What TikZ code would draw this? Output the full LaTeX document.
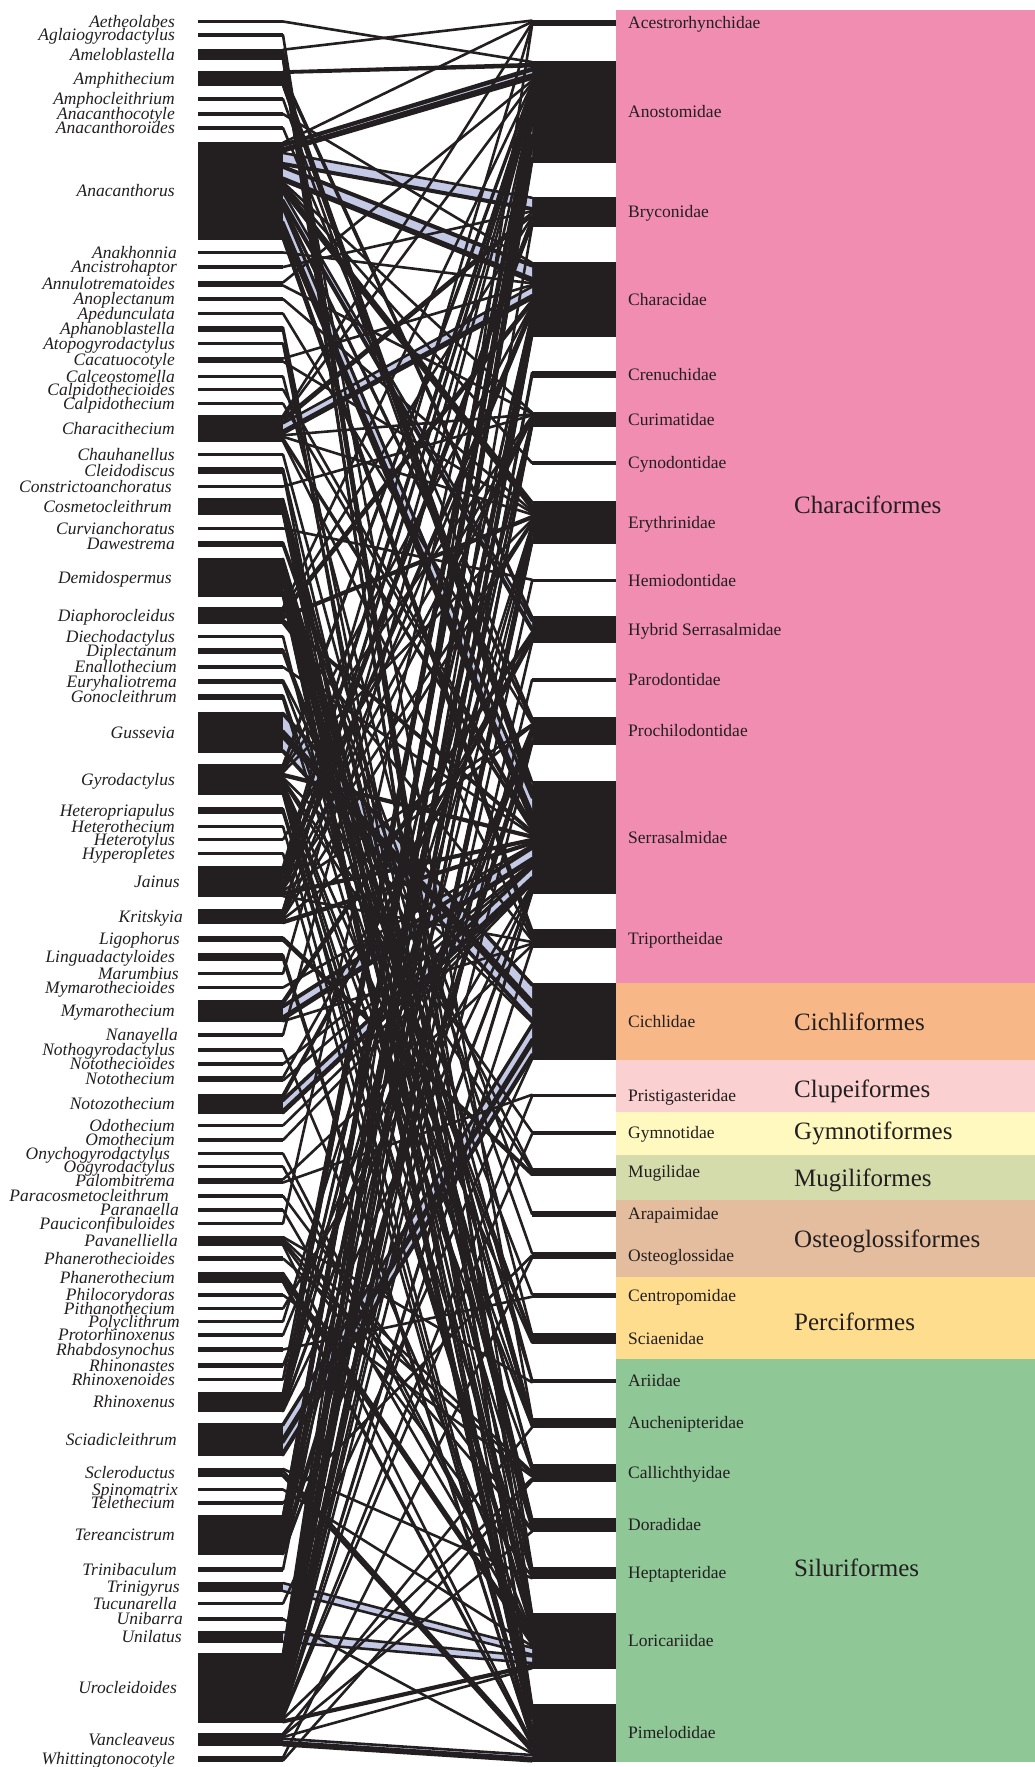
\documentclass[tikz,border=0pt]{standalone}
\usepackage{fontspec}
\setmainfont{Liberation Serif}
\definecolor{ink}{RGB}{35,31,32}
\definecolor{lnkblue}{RGB}{196,202,230}
\definecolor{cchar}{RGB}{242,141,178}
\definecolor{ccich}{RGB}{248,183,135}
\definecolor{cclup}{RGB}{251,208,208}
\definecolor{cgymn}{RGB}{255,249,192}
\definecolor{cmugi}{RGB}{213,220,171}
\definecolor{cost}{RGB}{228,189,158}
\definecolor{cperc}{RGB}{254,221,143}
\definecolor{csil}{RGB}{143,199,151}
\tikzset{
 lbar/.style={fill=ink, inner sep=0pt, outer sep=0pt, minimum width=85pt, draw=none},
 rbar/.style={fill=ink, inner sep=0pt, outer sep=0pt, minimum width=84pt, draw=none},
 glab/.style={anchor=east, inner sep=0pt, text height=11pt, text depth=0pt, font=\fontsize{17.5}{18}\selectfont\itshape, text=ink},
 flab/.style={anchor=west, inner sep=0pt, text height=11pt, text depth=0pt, font=\fontsize{17.5}{18}\selectfont, text=ink},
 olab/.style={anchor=west, inner sep=0pt, text height=16pt, text depth=0pt, font=\fontsize{25}{26}\selectfont, text=ink},
 ribfill/.style={fill=lnkblue, draw=none},
 lnk/.style={draw=ink, line width=2.6pt, line cap=round},
}
\newcommand\setv[2]{\expandafter\xdef\csname #1\endcsname{#2}}
\newcommand\getv[1]{\csname #1\endcsname}
\newcommand\gbar[5][0]{%
  \pgfmathsetmacro\myc{-(#3+#4)/2}%
  \pgfmathsetmacro\myh{#4-#3}%
  \node[lbar,minimum height=\myh pt] (L#2) at (240.5,\myc) {};
  \node[glab] (tL#2) at (175+#1,\myc) {#5};
  \setv{Lh#2}{\myh}\setv{LT#2}{0}\setv{LC#2}{0}%
}
\newcommand\fbar[4]{%
  \pgfmathsetmacro\myc{-(#2+#3)/2}%
  \pgfmathsetmacro\myh{#3-#2}%
  \node[rbar,minimum height=\myh pt] (R#1) at (574,\myc) {};
  \node[flab] (tR#1) at (628,\myc) {#4};
  \setv{Rh#1}{\myh}\setv{RT#1}{0}\setv{RC#1}{0}%
}
\newcommand\lkcount[3]{%
  \pgfmathsetmacro\mytmp{\getv{LT#1}+#3}\setv{LT#1}{\mytmp}%
  \pgfmathsetmacro\mytmp{\getv{RT#2}+#3}\setv{RT#2}{\mytmp}%
}
\newcommand\lkcomp[3]{%
  \pgfmathsetmacro\mysl{\getv{Lh#1}/\getv{LT#1}}%
  \pgfmathsetmacro\myla{(\getv{LC#1}+0.5)*\mysl}%
  \pgfmathsetmacro\mylb{(\getv{LC#1}+#3-0.5)*\mysl}%
  \pgfmathsetmacro\mysr{\getv{Rh#2}/\getv{RT#2}}%
  \pgfmathsetmacro\myra{(\getv{RC#2}+0.5)*\mysr}%
  \pgfmathsetmacro\myrb{(\getv{RC#2}+#3-0.5)*\mysr}%
  \pgfmathsetmacro\mytmp{\getv{LC#1}+#3}\setv{LC#1}{\mytmp}%
  \pgfmathsetmacro\mytmp{\getv{RC#2}+#3}\setv{RC#2}{\mytmp}%
}
\newcommand\lkfill[3]{%
  \lkcomp{#1}{#2}{#3}%
  \ifnum#3>1
  \fill[ribfill] ([yshift=-\myla pt]L#1.north east) -- ([yshift=-\myra pt]R#2.north west) -- ([yshift=-\myrb pt]R#2.north west) -- ([yshift=-\mylb pt]L#1.north east) -- cycle;
  \fi
}
\newcommand\lkline[3]{%
  \lkcomp{#1}{#2}{#3}%
  \draw[lnk] ([yshift=-\myla pt]L#1.north east) -- ([yshift=-\myra pt]R#2.north west);
  \ifnum#3>1
  \draw[lnk] ([yshift=-\mylb pt]L#1.north east) -- ([yshift=-\myrb pt]R#2.north west);
  \fi
}
\newcommand\resetcur{%
  \foreach \i in {1,...,83}{\setv{LC\i}{0}}%
  \foreach \i in {1,...,29}{\setv{RC\i}{0}}%
}
\def\linklist{%
\lk{1}{2}{1}
\lk{2}{28}{1}
\lk{3}{1}{1}\lk{3}{24}{1}\lk{3}{27}{1}\lk{3}{28}{1}\lk{3}{29}{3}\lk{3}{29}{1}
\lk{4}{2}{1}\lk{4}{2}{1}\lk{4}{10}{3}\lk{4}{13}{5}\lk{4}{13}{1}\lk{4}{13}{1}\lk{4}{13}{1}
\lk{5}{13}{1}
\lk{6}{4}{1}
\lk{7}{12}{1}
\lk{8}{1}{1}\lk{8}{2}{1}\lk{8}{2}{3}\lk{8}{2}{1}\lk{8}{2}{1}\lk{8}{3}{8}\lk{8}{3}{1}\lk{8}{4}{1}\lk{8}{4}{8}\lk{8}{4}{1}\lk{8}{4}{1}\lk{8}{6}{1}\lk{8}{7}{1}\lk{8}{8}{3}\lk{8}{8}{1}\lk{8}{8}{1}\lk{8}{10}{6}\lk{8}{10}{1}\lk{8}{10}{1}\lk{8}{12}{1}\lk{8}{12}{1}\lk{8}{13}{1}\lk{8}{13}{10}\lk{8}{13}{1}\lk{8}{13}{1}\lk{8}{13}{1}\lk{8}{13}{1}\lk{8}{13}{3}\lk{8}{14}{3}\lk{8}{14}{1}\lk{8}{14}{1}
\lk{9}{4}{1}
\lk{10}{3}{1}
\lk{11}{2}{1}\lk{11}{6}{1}
\lk{12}{8}{1}
\lk{13}{12}{1}
\lk{14}{27}{1}\lk{14}{29}{1}
\lk{15}{28}{1}
\lk{16}{4}{1}\lk{16}{8}{1}
\lk{17}{22}{1}
\lk{18}{13}{1}
\lk{19}{13}{1}
\lk{20}{1}{1}\lk{20}{2}{1}\lk{20}{3}{3}\lk{20}{4}{6}\lk{20}{4}{1}\lk{20}{4}{1}\lk{20}{6}{1}\lk{20}{8}{1}\lk{20}{13}{1}\lk{20}{13}{1}\lk{20}{14}{1}
\lk{21}{23}{1}
\lk{22}{26}{1}\lk{22}{29}{1}
\lk{23}{6}{1}
\lk{24}{24}{1}\lk{24}{24}{1}\lk{24}{26}{3}\lk{24}{26}{1}\lk{24}{26}{1}\lk{24}{28}{1}\lk{24}{29}{1}\lk{24}{29}{1}
\lk{25}{9}{1}
\lk{26}{19}{1}\lk{26}{20}{1}
\lk{27}{23}{1}\lk{27}{24}{1}\lk{27}{24}{1}\lk{27}{24}{1}\lk{27}{25}{1}\lk{27}{25}{1}\lk{27}{26}{3}\lk{27}{26}{1}\lk{27}{27}{1}\lk{27}{27}{1}\lk{27}{27}{1}\lk{27}{28}{1}\lk{27}{28}{1}\lk{27}{29}{1}\lk{27}{29}{7}\lk{27}{29}{1}\lk{27}{29}{1}\lk{27}{29}{1}
\lk{28}{2}{1}\lk{28}{3}{1}\lk{28}{4}{1}\lk{28}{4}{1}\lk{28}{4}{1}\lk{28}{8}{1}\lk{28}{8}{1}\lk{28}{13}{1}\lk{28}{13}{1}\lk{28}{14}{1}
\lk{29}{28}{1}
\lk{30}{21}{1}\lk{30}{22}{1}
\lk{31}{13}{1}
\lk{32}{18}{1}\lk{32}{22}{1}
\lk{33}{24}{1}\lk{33}{26}{1}
\lk{34}{15}{1}\lk{34}{15}{10}\lk{34}{15}{1}\lk{34}{15}{1}\lk{34}{15}{1}\lk{34}{15}{8}\lk{34}{15}{1}
\lk{35}{2}{1}\lk{35}{2}{1}\lk{35}{4}{1}\lk{35}{6}{1}\lk{35}{8}{1}\lk{35}{13}{1}\lk{35}{13}{1}\lk{35}{15}{1}\lk{35}{17}{1}\lk{35}{18}{1}\lk{35}{22}{1}\lk{35}{24}{1}\lk{35}{25}{1}\lk{35}{27}{1}\lk{35}{28}{1}\lk{35}{28}{1}\lk{35}{29}{1}
\lk{36}{28}{2}
\lk{37}{29}{1}
\lk{38}{6}{1}
\lk{39}{29}{1}
\lk{40}{1}{1}\lk{40}{2}{1}\lk{40}{2}{1}\lk{40}{2}{1}\lk{40}{3}{4}\lk{40}{3}{1}\lk{40}{4}{1}\lk{40}{4}{1}\lk{40}{4}{1}\lk{40}{6}{1}\lk{40}{8}{1}\lk{40}{12}{1}\lk{40}{13}{1}\lk{40}{13}{1}\lk{40}{14}{1}
\lk{41}{2}{1}\lk{41}{2}{1}\lk{41}{4}{1}\lk{41}{6}{1}\lk{41}{8}{1}\lk{41}{12}{1}\lk{41}{13}{1}\lk{41}{13}{1}
\lk{42}{18}{2}
\lk{43}{29}{2}
\lk{44}{2}{1}
\lk{45}{13}{1}
\lk{46}{10}{3}\lk{46}{13}{1}\lk{46}{13}{7}\lk{46}{13}{1}\lk{46}{13}{1}\lk{46}{14}{1}
\lk{47}{2}{1}
\lk{48}{28}{1}
\lk{49}{13}{1}
\lk{50}{10}{1}\lk{50}{13}{1}
\lk{51}{10}{3}\lk{51}{13}{1}\lk{51}{13}{7}\lk{51}{13}{1}\lk{51}{13}{1}
\lk{52}{13}{1}
\lk{53}{13}{1}
\lk{54}{28}{1}
\lk{55}{28}{1}
\lk{56}{14}{1}\lk{56}{16}{1}
\lk{57}{26}{1}
\lk{58}{28}{1}
\lk{59}{2}{1}
\lk{60}{23}{1}\lk{60}{25}{1}\lk{60}{26}{1}\lk{60}{27}{1}\lk{60}{29}{1}
\lk{61}{25}{1}
\lk{62}{28}{3}\lk{62}{28}{1}\lk{62}{29}{1}\lk{62}{29}{1}
\lk{63}{25}{1}
\lk{64}{13}{1}
\lk{65}{8}{1}
\lk{66}{12}{1}
\lk{67}{21}{1}
\lk{68}{12}{1}
\lk{69}{2}{1}
\lk{70}{2}{1}\lk{70}{2}{3}\lk{70}{2}{1}\lk{70}{4}{1}\lk{70}{4}{1}\lk{70}{6}{1}\lk{70}{6}{1}\lk{70}{8}{1}\lk{70}{12}{1}\lk{70}{12}{1}\lk{70}{13}{1}
\lk{71}{15}{1}\lk{71}{15}{9}\lk{71}{15}{1}\lk{71}{15}{1}\lk{71}{15}{7}\lk{71}{15}{1}\lk{71}{15}{1}
\lk{72}{27}{1}\lk{72}{29}{3}\lk{72}{29}{1}
\lk{73}{28}{1}
\lk{74}{20}{1}
\lk{75}{2}{1}\lk{75}{2}{7}\lk{75}{2}{1}\lk{75}{2}{1}\lk{75}{2}{1}\lk{75}{4}{1}\lk{75}{4}{1}\lk{75}{4}{1}\lk{75}{4}{1}\lk{75}{6}{1}\lk{75}{6}{1}\lk{75}{8}{1}\lk{75}{12}{5}\lk{75}{12}{1}\lk{75}{13}{1}\lk{75}{13}{1}
\lk{76}{4}{1}
\lk{77}{28}{5}
\lk{78}{15}{1}
\lk{79}{29}{1}
\lk{80}{28}{5}
\lk{81}{1}{1}\lk{81}{2}{1}\lk{81}{2}{7}\lk{81}{2}{1}\lk{81}{2}{1}\lk{81}{3}{1}\lk{81}{4}{1}\lk{81}{4}{3}\lk{81}{4}{1}\lk{81}{4}{1}\lk{81}{4}{1}\lk{81}{5}{2}\lk{81}{6}{1}\lk{81}{6}{3}\lk{81}{8}{1}\lk{81}{8}{5}\lk{81}{8}{1}\lk{81}{8}{1}\lk{81}{9}{1}\lk{81}{10}{1}\lk{81}{11}{1}\lk{81}{12}{1}\lk{81}{13}{1}\lk{81}{13}{1}\lk{81}{14}{1}\lk{81}{16}{1}\lk{81}{17}{1}\lk{81}{25}{1}\lk{81}{28}{1}\lk{81}{28}{1}
\lk{82}{24}{1}\lk{82}{26}{1}\lk{82}{28}{1}\lk{82}{29}{3}\lk{82}{29}{1}\lk{82}{29}{1}
\lk{83}{20}{1}\lk{83}{25}{1}
}
\begin{document}
\begin{tikzpicture}[x=1pt,y=1pt]
\useasboundingbox (0,0) rectangle (1035,-1767);
\fill[white] (0,0) rectangle (1035,-1767);
% order panels
\fill[cchar] (616,-10) rectangle (1035,-983);
\fill[ccich] (616,-983) rectangle (1035,-1060);
\fill[cclup] (616,-1060) rectangle (1035,-1112);
\fill[cgymn] (616,-1112) rectangle (1035,-1155);
\fill[cmugi] (616,-1155) rectangle (1035,-1200);
\fill[cost] (616,-1200) rectangle (1035,-1277);
\fill[cperc] (616,-1277) rectangle (1035,-1359);
\fill[csil] (616,-1359) rectangle (1035,-1762);
\node[olab] (oChar) at (794,-505) {Characiformes};
\node[olab] (oCich) at (794,-1022) {Cichliformes};
\node[olab] (oClup) at (794,-1089) {Clupeiformes};
\node[olab] (oGymn) at (794,-1131) {Gymnotiformes};
\node[olab] (oMugi) at (794,-1178) {Mugiliformes};
\node[olab] (oOst) at (794,-1239) {Osteoglossiformes};
\node[olab] (oPerc) at (794,-1322) {Perciformes};
\node[olab] (oSil) at (794,-1568) {Siluriformes};
% parasite genera
\gbar{1}{20}{23}{Aetheolabes}
\gbar{2}{33}{37}{Aglaiogyrodactylus}
\gbar{3}{49}{60}{Ameloblastella}
\gbar{4}{71}{86}{Amphithecium}
\gbar{5}{97}{101}{Amphocleithrium}
\gbar{6}{112}{116}{Anacanthocotyle}
\gbar{7}{126}{130}{Anacanthoroides}
\gbar{8}{142}{240}{Anacanthorus}
\gbar[2]{9}{251}{254}{Anakhonnia}
\gbar[2]{10}{265}{269}{Ancistrohaptor}
\gbar{11}{281}{287}{Annulotrematoides}
\gbar{12}{297}{301}{Anoplectanum}
\gbar{13}{312}{315}{Apedunculata}
\gbar{14}{326}{332}{Aphanoblastella}
\gbar{15}{342}{345}{Atopogyrodactylus}
\gbar{16}{357}{363}{Cacatuocotyle}
\gbar{17}{375}{378}{Calceostomella}
\gbar{18}{388}{391}{Calpidothecioides}
\gbar{19}{402}{405}{Calpidothecium}
\gbar{20}{415}{442}{Characithecium}
\gbar{21}{453}{456}{Chauhanellus}
\gbar{22}{467}{474}{Cleidodiscus}
\gbar[-3]{23}{485}{488}{Constrictoanchoratus}
\gbar[-3]{24}{498}{515}{Cosmetocleithrum}
\gbar{25}{527}{530}{Curvianchoratus}
\gbar{26}{541}{547}{Dawestrema}
\gbar[-3]{27}{558}{597}{Demidospermus}
\gbar{28}{607}{624}{Diaphorocleidus}
\gbar{29}{635}{638}{Diechodactylus}
\gbar[2]{30}{648}{654}{Diplectanum}
\gbar[2]{31}{665}{669}{Enallothecium}
\gbar[2]{32}{679}{684}{Euryhaliotrema}
\gbar[2]{33}{694}{700}{Gonocleithrum}
\gbar{34}{712}{753}{Gussevia}
\gbar{35}{764}{795}{Gyrodactylus}
\gbar{36}{807}{814}{Heteropriapulus}
\gbar{37}{825}{828}{Heterothecium}
\gbar{38}{838}{841}{Heterotylus}
\gbar{39}{852}{855}{Hyperopletes}
\gbar[5]{40}{866}{897}{Jainus}
\gbar[8]{41}{909}{924}{Kritskyia}
\gbar[5]{42}{936}{942}{Ligophorus}
\gbar{43}{953}{961}{Linguadactyloides}
\gbar[4]{44}{972}{975}{Marumbius}
\gbar{45}{986}{989}{Mymarothecioides}
\gbar{46}{1000}{1022}{Mymarothecium}
\gbar[3]{47}{1033}{1037}{Nanayella}
\gbar{48}{1048}{1052}{Nothogyrodactylus}
\gbar{49}{1062}{1066}{Notothecioides}
\gbar{50}{1076}{1082}{Notothecium}
\gbar{51}{1094}{1114}{Notozothecium}
\gbar{52}{1124}{1127}{Odothecium}
\gbar{53}{1138}{1142}{Omothecium}
\gbar[-5]{54}{1152}{1155}{Onychogyrodactylus}
\gbar{55}{1165}{1168}{Oogyrodactylus}
\gbar{56}{1178}{1184}{Palombitrema}
\gbar[-6]{57}{1194}{1198}{Paracosmetocleithrum}
\gbar[4]{58}{1208}{1212}{Paranaella}
\gbar{59}{1222}{1225}{Pauciconfibuloides}
\gbar[3]{60}{1236}{1246}{Pavanelliella}
\gbar{61}{1256}{1261}{Phanerothecioides}
\gbar{62}{1272}{1283}{Phanerothecium}
\gbar{63}{1293}{1297}{Philocorydoras}
\gbar{64}{1307}{1310}{Pithanothecium}
\gbar[5]{65}{1320}{1323}{Polyclithrum}
\gbar{66}{1333}{1337}{Protorhinoxenus}
\gbar{67}{1347}{1352}{Rhabdosynochus}
\gbar{68}{1363}{1368}{Rhinonastes}
\gbar{69}{1378}{1381}{Rhinoxenoides}
\gbar{70}{1392}{1412}{Rhinoxenus}
\gbar[2]{71}{1423}{1456}{Sciadicleithrum}
\gbar{72}{1468}{1477}{Scleroductus}
\gbar[3]{73}{1488}{1491}{Spinomatrix}
\gbar{74}{1501}{1505}{Telethecium}
\gbar{75}{1515}{1555}{Tereancistrum}
\gbar[2]{76}{1567}{1572}{Trinibaculum}
\gbar[5]{77}{1582}{1592}{Trinigyrus}
\gbar[2]{78}{1602}{1605}{Tucunarella}
\gbar[8]{79}{1617}{1621}{Unibarra}
\gbar[7]{80}{1631}{1643}{Unilatus}
\gbar[2]{81}{1653}{1723}{Urocleidoides}
\gbar{82}{1733}{1746}{Vancleaveus}
\gbar{83}{1756}{1762}{Whittingtonocotyle}
% host families
\fbar{1}{20}{26}{Acestrorhynchidae}
\fbar{2}{61}{163}{Anostomidae}
\fbar{3}{197}{227}{Bryconidae}
\fbar{4}{262}{337}{Characidae}
\fbar{5}{371}{378}{Crenuchidae}
\fbar{6}{412}{427}{Curimatidae}
\fbar{7}{461}{465}{Cynodontidae}
\fbar{8}{501}{544}{Erythrinidae}
\fbar{9}{579}{582}{Hemiodontidae}
\fbar{10}{616}{643}{Hybrid Serrasalmidae}
\fbar{11}{678}{682}{Parodontidae}
\fbar{12}{717}{745}{Prochilodontidae}
\fbar{13}{781}{894}{Serrasalmidae}
\fbar{14}{929}{948}{Triportheidae}
\fbar{15}{983}{1060}{Cichlidae}
\fbar{16}{1094}{1097}{Pristigasteridae}
\fbar{17}{1131}{1135}{Gymnotidae}
\fbar{18}{1168}{1176}{Mugilidae}
\fbar{19}{1211}{1217}{Arapaimidae}
\fbar{20}{1252}{1259}{Osteoglossidae}
\fbar{21}{1293}{1298}{Centropomidae}
\fbar{22}{1333}{1344}{Sciaenidae}
\fbar{23}{1379}{1383}{Ariidae}
\fbar{24}{1418}{1428}{Auchenipteridae}
\fbar{25}{1464}{1482}{Callichthyidae}
\fbar{26}{1518}{1532}{Doradidae}
\fbar{27}{1567}{1579}{Heptapteridae}
\fbar{28}{1613}{1669}{Loricariidae}
\fbar{29}{1704}{1762}{Pimelodidae}
% links: count, blue ribbons, then black lines on top
\let\lk\lkcount \linklist
\let\lk\lkfill \linklist
\resetcur
\let\lk\lkline \linklist
\end{tikzpicture}
\end{document}
